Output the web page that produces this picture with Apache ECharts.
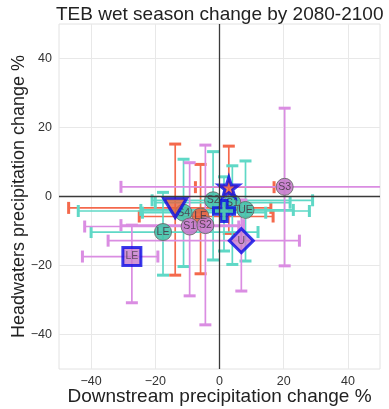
<!DOCTYPE html>
<html>
<head>
<meta charset="utf-8">
<script src="https://cdn.jsdelivr.net/npm/echarts@6/dist/echarts.min.js"></script>
<style>
  html, body { margin: 0; padding: 0; background: #fff; }
  #chart { width: 389px; height: 409px; }
</style>
</head>
<body>
<div id="chart"></div>
<script>
// axis ticks
const xTicks = [-40, -20, 0, 20, 40]
const yTicks = [-40, -20, 0, 20, 40]

// orange group
const orangeLabels = ['', 'LE', '']
const orangeShapes = ['triangle', 'circle', 'star']
const orangeX = [-13.8, -5.9, 2.9]
const orangeY = [-3.3, -5.8, 2.7]
const orangeXLo = [-47, -25, -7.5]
const orangeXHi = [16, 16.7, 17]
const orangeYLo = [-22.8, -22.4, -10.7]
const orangeYHi = [15.2, 9.3, 14.6]

// turquoise group
const turqLabels = ['S4', 'LE', 'S2', 'S1', '', 'UE']
const turqShapes = ['circle', 'circle', 'circle', 'circle', 'plus', 'circle']
const turqX = [-11.2, -17.6, -2, 4, 1.4, 8.1]
const turqY = [-4.7, -10.3, -1.1, -1.8, -4.2, -3.9]
const turqXLo = [-24, -40, -21, -20, -44, -24.5]
const turqXHi = [14.4, 12, 29, 22, 28, 23]
const turqYLo = [-20.3, -22.8, -18.4, -19.7, -15.8, -18.7]
const turqYHi = [10.8, 1.2, 13, 8.9, 5.7, 10.3]

// purple group
const purpleLabels = ['S1', 'S2', 'LE', 'S3', 'U']
const purpleShapes = ['circle', 'circle', 'square', 'circle', 'diamond']
const purpleX = [-9.3, -4.4, -27.3, 20.3, 6.8]
const purpleY = [-8.7, -8.3, -17.4, 2.8, -12.8]
const purpleXLo = [-42, -30.7, -42.7, -30.7, -34.7]
const purpleXHi = [6, 7.5, -19.2, 56, 24.9]
const purpleYLo = [-28.8, -37.2, -30.8, -20.1, -27.4]
const purpleYHi = [9.8, 14.9, -8.3, 25.6, -1]

const STAR = 'path://M50,0 L61.8,35.1 L98.1,35.1 L68.8,56.7 L79.4,90.5 L50,69.6 L20.6,90.5 L31.2,56.7 L1.9,35.1 L38.2,35.1 Z'
const PLUS = 'path://M35,0 L65,0 L65,35 L100,35 L100,65 L65,65 L65,100 L35,100 L35,65 L0,65 L0,35 L35,35 Z'

const groups = [
    { bar: '#f4694c', fill: '#e8603c', labels: orangeLabels, shapes: orangeShapes, x: orangeX, y: orangeY, xLo: orangeXLo, xHi: orangeXHi, yLo: orangeYLo, yHi: orangeYHi },
    { bar: '#5fd8c6', fill: '#45c2aa', labels: turqLabels, shapes: turqShapes, x: turqX, y: turqY, xLo: turqXLo, xHi: turqXHi, yLo: turqYLo, yHi: turqYHi },
    { bar: '#da8de2', fill: '#c57bcb', labels: purpleLabels, shapes: purpleShapes, x: purpleX, y: purpleY, xLo: purpleXLo, xHi: purpleXHi, yLo: purpleYLo, yHi: purpleYHi }
]

function errorBars(color) {
    return function (params, api) {
        const x = api.value(0)
        const y = api.value(1)
        const h0 = api.coord([api.value(2), y])
        const h1 = api.coord([api.value(3), y])
        const v0 = api.coord([x, api.value(4)])
        const v1 = api.coord([x, api.value(5)])
        const c = 6
        const line = { stroke: color, lineWidth: 1.7 }
        const cap = { stroke: color, lineWidth: 3 }
        return {
            type: 'group',
            children: [
                { type: 'line', shape: { x1: h0[0], y1: h0[1], x2: h1[0], y2: h1[1] }, style: line },
                { type: 'line', shape: { x1: v0[0], y1: v0[1], x2: v1[0], y2: v1[1] }, style: line },
                { type: 'line', shape: { x1: h0[0], y1: h0[1] - c, x2: h0[0], y2: h0[1] + c }, style: cap },
                { type: 'line', shape: { x1: h1[0], y1: h1[1] - c, x2: h1[0], y2: h1[1] + c }, style: cap },
                { type: 'line', shape: { x1: v0[0] - c, y1: v0[1], x2: v0[0] + c, y2: v0[1] }, style: cap },
                { type: 'line', shape: { x1: v1[0] - c, y1: v1[1], x2: v1[0] + c, y2: v1[1] }, style: cap }
            ]
        }
    }
}

function markerStyle(shape) {
    switch (shape) {
        case 'triangle': return { symbol: 'triangle', symbolRotate: 180, symbolSize: [23, 19] }
        case 'star': return { symbol: STAR, symbolSize: 20 }
        case 'plus': return { symbol: PLUS, symbolSize: 21 }
        case 'square': return { symbol: 'rect', symbolSize: 18 }
        case 'diamond': return { symbol: 'rect', symbolRotate: 45, symbolSize: 17 }
        default: return { symbol: 'circle', symbolSize: 17 }
    }
}

const series = []

// zero lines
series.push({
    type: 'scatter',
    data: [],
    z: 1,
    silent: true,
    markLine: {
        silent: true,
        symbol: 'none',
        label: { show: false },
        lineStyle: { color: '#3a3a3a', width: 1.3, type: 'solid' },
        data: [{ xAxis: 0 }, { yAxis: 0 }]
    }
})

groups.forEach(g => {
    series.push({
        type: 'custom',
        z: 2,
        clip: true,
        renderItem: errorBars(g.bar),
        data: g.x.map((v, i) => [v, g.y[i], g.xLo[i], g.xHi[i], g.yLo[i], g.yHi[i]])
    })
})

groups.forEach(g => {
    const circles = []
    const special = []
    g.x.forEach((v, i) => {
        const item = Object.assign({ value: [v, g.y[i], g.labels[i]] }, markerStyle(g.shapes[i]))
        if (g.shapes[i] === 'circle') {
            item.itemStyle = { color: g.fill, borderColor: '#6a6a6a', borderWidth: 1, opacity: 0.9 }
            circles.push(item)
        } else {
            item.itemStyle = { color: g.fill, borderColor: '#0a0ae6', borderWidth: 3 }
            special.push(item)
        }
    })
    const label = {
        show: true,
        position: 'inside',
        formatter: p => p.value[2],
        fontSize: 10.5,
        color: '#4a3a4a',
        fontFamily: 'Liberation Sans'
    }
    series.push({ type: 'scatter', z: 3, data: circles, label: label })
    series.push({ type: 'scatter', z: 4, data: special, label: label })
})

const minus = v => String(v).replace('-', '\u2212')

const chart = echarts.init(document.getElementById('chart'))

chart.setOption({
    animation: false,
    backgroundColor: '#fff',
    textStyle: { fontFamily: 'Liberation Sans' },
    title: {
        text: 'TEB wet season change by 2080-2100',
        left: 51,
        top: 0,
        textStyle: { fontSize: 19, fontWeight: 'normal', color: '#222', fontFamily: 'Liberation Sans' }
    },
    grid: {
        left: 59,
        right: 9,
        top: 24,
        bottom: 40,
        outerBoundsMode: 'none',
        show: true,
        borderColor: '#e2e2e2',
        borderWidth: 1
    },
    xAxis: {
        type: 'value',
        min: -50,
        max: 50,
        name: 'Downstream precipitation change %',
        nameLocation: 'middle',
        nameMoveOverlap: false,
        nameGap: 18,
        nameTextStyle: { fontSize: 19, color: '#222' },
        axisLine: { show: false },
        axisTick: { show: false, customValues: xTicks },
        axisLabel: { customValues: xTicks, fontSize: 12.5, color: '#333', margin: 6, formatter: minus },
        splitLine: { show: true, lineStyle: { color: '#e8e8e8', width: 1 } }
    },
    yAxis: {
        type: 'value',
        min: -50,
        max: 50,
        name: 'Headwaters precipitation change %',
        nameLocation: 'middle',
        nameMoveOverlap: false,
        nameGap: 31,
        nameTextStyle: { fontSize: 18, color: '#222' },
        axisLine: { show: false },
        axisTick: { show: false, customValues: yTicks },
        axisLabel: { customValues: yTicks, fontSize: 12.5, color: '#333', margin: 7, formatter: minus },
        splitLine: { show: true, lineStyle: { color: '#e8e8e8', width: 1 } }
    },
    series: series
})
</script>
</body>
</html>
